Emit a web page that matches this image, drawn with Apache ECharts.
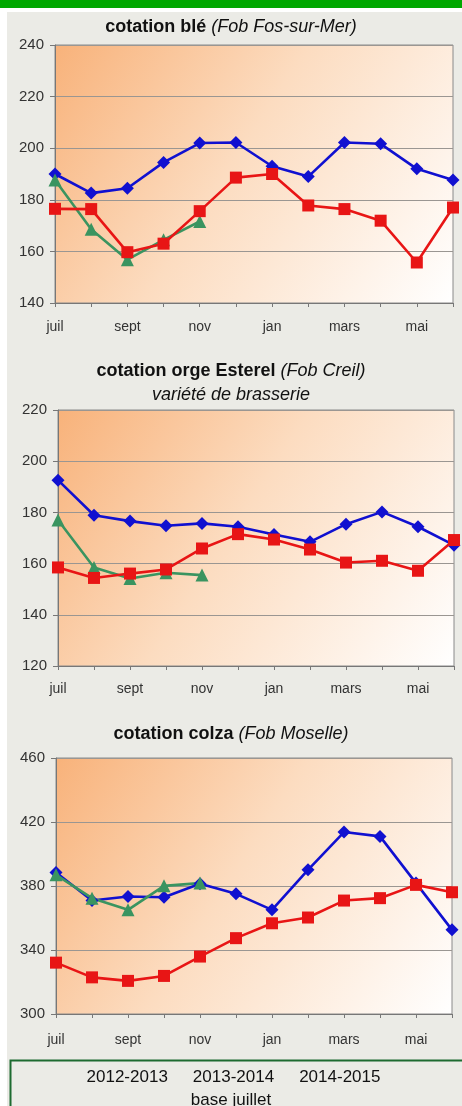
<!DOCTYPE html>
<html><head><meta charset="utf-8">
<script src="https://cdn.jsdelivr.net/npm/echarts@6/dist/echarts.min.js"></script>
<style>
html,body{margin:0;padding:0;background:#fff;}
#bar{position:absolute;left:0;top:0;width:462px;height:8px;background:#00a800;}
#panel{position:absolute;left:7px;top:12px;width:455px;height:1094px;background:#ebebe6;}
#c{position:absolute;left:0;top:0;width:462px;height:1106px;}
</style></head>
<body><div id="bar"></div><div id="panel"></div><div id="c"></div>
<script>
const months = ['juil','août','sept','oct','nov','déc','jan','févr','mars','avr','mai','juin'];
const seasons = ['2012-2013','2013-2014','2014-2015'];
// blé
const ble2012 = [190,182.6,184.5,194.5,202,202.2,193,189,202.2,201.7,192,187.7];
const ble2013 = [176.5,176.4,159.7,163,175.6,188.6,190,177.8,176.4,171.9,155.7,177];
const ble2014 = [187.7,168.6,156.8,164.5,171.6];
// orge Esterel
const orge2012 = [192.6,178.9,176.6,174.8,175.7,174.4,171.4,168.5,175.4,180.2,174.4,167.2];
const orge2013 = [158.5,154.4,156.1,157.7,165.9,171.5,169.4,165.5,160.4,161.1,157.2,169.2];
const orge2014 = [177,158.5,154.2,156.4,155.5];
// colza
const colza2012 = [388.4,370.9,373.4,373,381.4,375.1,365.1,390.1,413.7,411,381.8,352.6];
const colza2013 = [332.1,322.9,320.7,323.8,335.9,347.4,356.7,360.3,370.9,372.4,380.7,376.1];
const colza2014 = [387,372.4,365.1,380.1,381.8];
const ticks = [{min:140,max:240,interval:20},{min:120,max:220,interval:20},{min:300,max:460,interval:40}];

const FONT = '"Liberation Sans", Arial, sans-serif';
const grids = [
  {left:55,right:9,top:45,height:258},
  {left:58,right:8,top:410,height:256},
  {left:56,right:10,top:758,height:256}
];
const xMargins = [17,16,19];
const bg = {type:'linear',x:0,y:0,x2:1,y2:1,colorStops:[{offset:0,color:'#f8b27a'},{offset:0.45,color:'#fcdcc0'},{offset:1,color:'#ffffff'}]};
const COL = {b:'#1010d0', r:'#e81515', g:'#3a9460'};

const xAxes = grids.map((g,i)=>({
  type:'category', gridIndex:i, data:months, boundaryGap:false,
  axisLine:{lineStyle:{color:'#777',width:1}},
  axisTick:{show:true,interval:0,length:4,lineStyle:{color:'#777'}},
  axisLabel:{interval:1,color:'#333',fontFamily:FONT,fontSize:14,margin:xMargins[i]},
  splitLine:{show:false}
}));
const yAxes = ticks.map((t,i)=>({
  type:'value', gridIndex:i, min:t.min, max:t.max, interval:t.interval,
  axisLine:{show:true,lineStyle:{color:'#777'}},
  axisTick:{show:true,length:5,lineStyle:{color:'#777'}},
  axisLabel:{color:'#333',fontFamily:FONT,fontSize:15,margin:11},
  splitLine:{show:true,lineStyle:{color:'#9a9692',width:1}}
}));
function mk(name,data,i,color,symbol,size){
  return {name:name,type:'line',xAxisIndex:i,yAxisIndex:i,data:data,
    symbol:symbol,symbolSize:size,showAllSymbol:true,
    lineStyle:{color:color,width:2.6},itemStyle:{color:color},
    emphasis:{disabled:true},animation:false};
}
const sets = [[ble2012,ble2013,ble2014],[orge2012,orge2013,orge2014],[colza2012,colza2013,colza2014]];
const series = [];
sets.forEach((s,i)=>{
  series.push(mk(seasons[0],s[0],i,COL.b,'diamond',13));
  series.push(mk(seasons[2],s[2],i,COL.g,'triangle',13));
  series.push(mk(seasons[1],s[1],i,COL.r,'rect',12));
});
const ts = {b:{fontWeight:'bold',fontSize:18,fontFamily:FONT,color:'#111'},i:{fontStyle:'italic',fontWeight:'normal',fontSize:18,fontFamily:FONT,color:'#111'}};
const option = {
  backgroundColor:'transparent',
  animation:false,
  title:[
    {text:'{b|cotation blé} {i|(Fob Fos-sur-Mer)}',left:'center',top:13,textStyle:{rich:ts}},
    {text:'{b|cotation orge Esterel} {i|(Fob Creil)}\n{i|variété de brasserie}',left:'center',top:354,textStyle:{rich:ts,lineHeight:24}},
    {text:'{b|cotation colza} {i|(Fob Moselle)}',left:'center',top:720,textStyle:{rich:ts}},
    {text:'base juillet',left:'center',top:1087,textStyle:{fontFamily:FONT,fontSize:17,fontWeight:'normal',color:'#111'}}
  ],
  legend:{data:seasons,top:1064,left:'center',icon:'none',itemWidth:0,itemHeight:0,itemGap:20,
    textStyle:{fontFamily:FONT,fontSize:17,color:'#111'},selectedMode:false},
  graphic:[{type:'rect',left:8,top:1058,shape:{width:460,height:60},style:{fill:'none',stroke:'#1d6b30',lineWidth:2},z:100}],
  grid:grids.map(g=>Object.assign({show:true,backgroundColor:bg,borderColor:'#8a8a8a',borderWidth:1},g)),
  xAxis:xAxes, yAxis:yAxes, series:series
};
const chart = echarts.init(document.getElementById('c'),null,{renderer:'canvas'});
chart.setOption(option);
</script></body></html>
